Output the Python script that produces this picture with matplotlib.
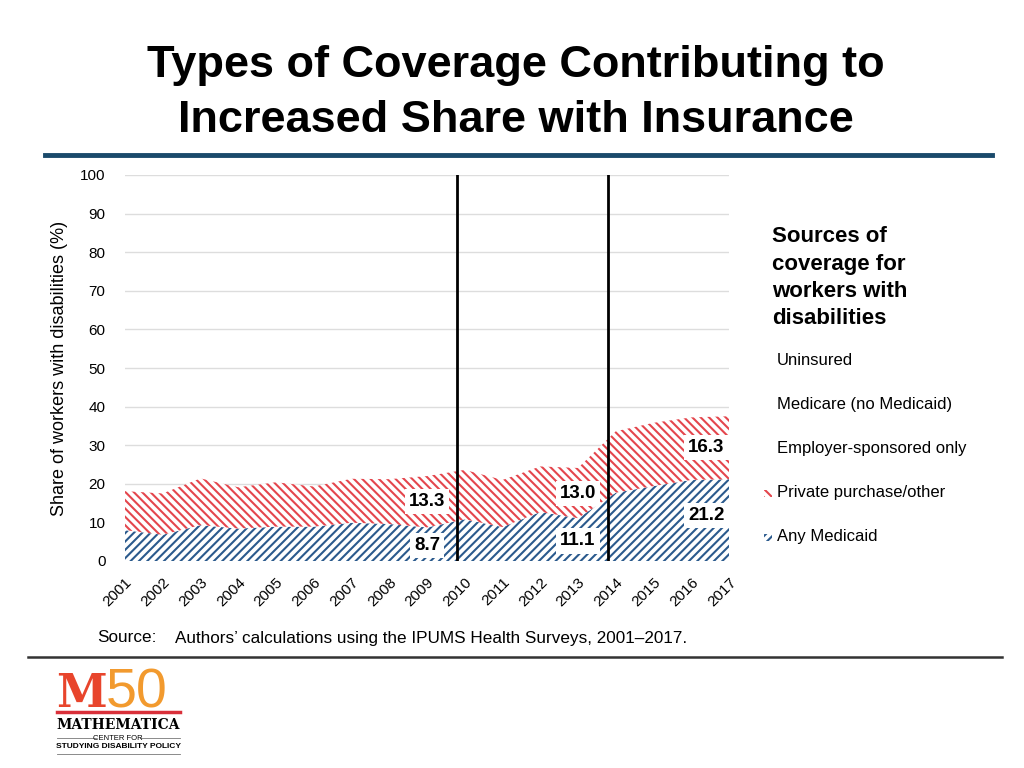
import numpy as np
import matplotlib
matplotlib.use("Agg")
import matplotlib.pyplot as plt
from matplotlib.patches import Rectangle
from matplotlib.lines import Line2D

plt.rcParams['font.family'] = ['Liberation Sans', 'DejaVu Sans']
plt.rcParams['hatch.linewidth'] = 1.5

# Data
years = np.arange(2001, 2018)
medicaid = [8.0, 6.8, 9.3, 8.4, 8.9, 8.9, 9.9, 9.6, 8.7, 10.8, 8.8, 12.7, 11.1, 17.7, 19.4, 21.0, 21.2]
private = [10.1, 10.7, 12.1, 10.7, 11.5, 10.4, 11.4, 11.6, 13.3, 12.8, 12.2, 11.8, 13.0, 15.9, 16.4, 16.2, 16.3]
policy_lines = [2009.8, 2013.8]
labels = [(2009, 15.5, "13.3"), (2009, 4.1, "8.7"),
          (2013, 17.4, "13.0"), (2013, 5.2, "11.1"),
          (2016.4, 29.5, "16.3"), (2016.4, 11.7, "21.2")]
legend_entries = ["Uninsured", "Medicare (no Medicaid)", "Employer-sponsored only",
                  "Private purchase/other", "Any Medicaid"]

RED = "#E4464D"
BLUE = "#2B5A8D"
W, H = 1024, 768


def fx(x):
    return x / W


def fy(y):
    return 1 - y / H


fig = plt.figure(figsize=(10.24, 7.68), dpi=100)

# title
title_font = ['Liberation Sans Narrow', 'Liberation Sans']
fig.text(fx(516), fy(66), "Types of Coverage Contributing to", ha='center', va='center',
         fontsize=32.5, fontweight='bold', family=title_font)
fig.text(fx(516), fy(120), "Increased Share with Insurance", ha='center', va='center',
         fontsize=32.5, fontweight='bold', family=title_font)
fig.add_artist(Line2D([fx(45), fx(992)], [fy(155), fy(155)], color="#1A4A6B", lw=3.5))

# chart
ax = fig.add_axes([fx(125), fy(561), fx(729) - fx(125), fy(175) - fy(561)])
medicaid = np.array(medicaid)
total = medicaid + np.array(private)
ax.fill_between(years, 0, medicaid, facecolor='white', edgecolor=BLUE, hatch='////', lw=0)
ax.fill_between(years, medicaid, total, facecolor='white', edgecolor=RED, hatch='\\\\\\\\', lw=0)
for xv in policy_lines:
    ax.axvline(xv, color='black', lw=2)
for x, y, t in labels:
    ax.text(x, y, t, ha='center', va='center', fontsize=13.5, fontweight='bold',
            bbox=dict(facecolor='white', edgecolor='none', pad=3))

ax.set_xlim(2001, 2017)
ax.set_ylim(0, 100)
ax.set_yticks(range(0, 101, 10))
ax.set_xticks(years)
ax.set_xticklabels([str(y) for y in years], rotation=45, ha='right', rotation_mode='anchor')
ax.tick_params(axis='y', length=0, labelsize=11, pad=14)
ax.tick_params(axis='x', length=0, labelsize=11, pad=10)
ax.grid(axis='y', color='#DDDDDD', lw=1)
ax.set_axisbelow(True)
for s in ax.spines.values():
    s.set_visible(False)
ax.set_ylabel("Share of workers with disabilities (%)", fontsize=13, labelpad=9)

# legend
for i, line in enumerate(["Sources of", "coverage for", "workers with", "disabilities"]):
    fig.text(fx(772), fy(237 + i * 27.3), line, ha='left', va='center', fontsize=16, fontweight='bold')
for i, name in enumerate(legend_entries):
    yc = 361 + i * 43.8
    fig.text(fx(777), fy(yc), name, ha='left', va='center', fontsize=12)
fig.add_artist(Rectangle((fx(764), fy(497)), fx(8), fy(490) - fy(497), facecolor='white',
                         edgecolor=RED, hatch='\\\\\\\\', lw=0, transform=fig.transFigure))
fig.add_artist(Rectangle((fx(764), fy(541)), fx(8), fy(534) - fy(541), facecolor='white',
                         edgecolor=BLUE, hatch='////', lw=0, transform=fig.transFigure))

# source and bottom rule
fig.text(fx(97), fy(638), "Source:", ha='left', va='center', fontsize=12.3)
fig.text(fx(175), fy(638), "Authors\u2019 calculations using the IPUMS Health Surveys, 2001\u20132017.",
         ha='left', va='center', fontsize=12.3)
fig.add_artist(Line2D([fx(28), fx(1002)], [fy(657), fy(657)], color="#333333", lw=1.8))

# logo
fig.text(fx(56), fy(707), "M", ha='left', va='baseline', fontsize=33, fontweight='bold',
         family='DejaVu Serif', color="#E8452C")
fig.text(fx(106), fy(707), "50", ha='left', va='baseline', fontsize=40, color="#F29A2E")
fig.add_artist(Line2D([fx(57), fx(180)], [fy(712), fy(712)], color="#D9303A", lw=2.5))
fig.text(fx(118), fy(725), "MATHEMATICA", ha='center', va='center', fontsize=10,
         fontweight='bold', family='DejaVu Serif')
fig.text(fx(118), fy(738), "CENTER FOR", ha='center', va='center', fontsize=5.5)
fig.add_artist(Line2D([fx(57), fx(96)], [fy(738), fy(738)], color="#777777", lw=0.6))
fig.add_artist(Line2D([fx(140), fx(180)], [fy(738), fy(738)], color="#777777", lw=0.6))
fig.text(fx(118), fy(747), "STUDYING DISABILITY POLICY", ha='center', va='center',
         fontsize=6, fontweight='bold')
fig.add_artist(Line2D([fx(57), fx(180)], [fy(754), fy(754)], color="#777777", lw=0.6))

fig.savefig("out.png", dpi=100)
